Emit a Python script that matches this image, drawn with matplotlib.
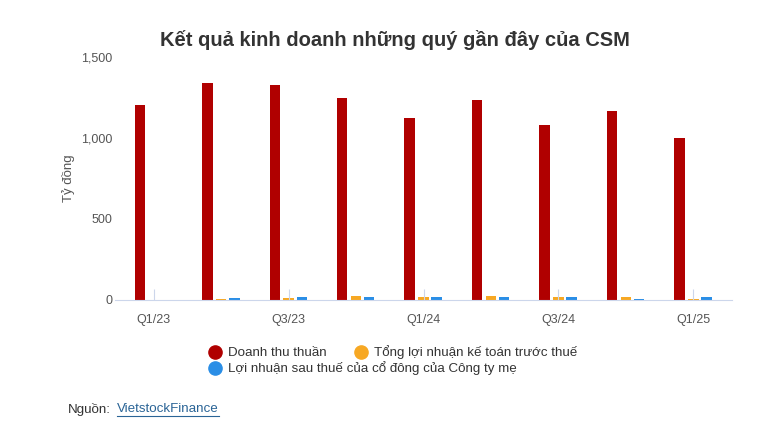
import numpy as np
import matplotlib.pyplot as plt
from matplotlib.lines import Line2D

plt.rcParams['font.family'] = ['Liberation Sans', 'DejaVu Sans']

quarters = ["Q1/23", "Q2/23", "Q3/23", "Q4/23", "Q1/24", "Q2/24", "Q3/24", "Q4/24", "Q1/25"]
doanh_thu = [1206, 1338, 1324, 1247, 1121, 1235, 1082, 1164, 997]
lnst_truoc_thue = [1, 8, 12, 23, 15, 25, 15, 15, 6]
lnst_cty_me = [2, 12, 17, 15, 15, 15, 15, 6, 15]
yticks = [0, 500, 1000, 1500]

c_red = "#b00000"
c_orange = "#f7a823"
c_blue = "#2a8ee6"

fig = plt.figure(figsize=(7.68, 4.41), dpi=100)
ax = fig.add_axes([0.150, 0.320, 0.803, 0.551])

x = np.arange(len(quarters))
w = 0.155
ax.bar(x - 0.205, doanh_thu, w, color=c_red)
ax.bar(x, lnst_truoc_thue, w, color=c_orange)
ax.bar(x + 0.195, lnst_cty_me, w, color=c_blue)

ax.set_xlim(-0.57, 8.57)
ax.set_ylim(0, 1500)

for s in ["top", "right", "left"]:
    ax.spines[s].set_visible(False)
ax.spines["bottom"].set_color("#ccd6eb")

ax.set_xticks(x[::2])
ax.set_xticklabels(quarters[::2], fontsize=9, color="#555555")
ax.tick_params(axis="x", direction="in", length=8, color="#ccd6eb", pad=10)
ax.set_yticks(yticks)
ax.set_yticklabels([f"{v:,}" for v in yticks], fontsize=9, color="#555555")
ax.tick_params(axis="y", length=0, pad=2)
ax.set_ylabel("Tỷ đồng", fontsize=9.5, color="#555555", labelpad=4)

fig.text(0.514, 0.91, "Kết quả kinh doanh những quý gần đây của CSM",
         ha="center", va="center", fontsize=14.5, fontweight="bold", color="#333333")

# legend drawn by hand (flow layout like the original)
legend_items = [
    (215, 352, c_red, "Doanh thu thuần"),
    (361, 352, c_orange, "Tổng lợi nhuận kế toán trước thuế"),
    (215, 368, c_blue, "Lợi nhuận sau thuế của cổ đông của Công ty mẹ"),
]
W, H = 768, 441
for px, py, col, label in legend_items:
    fig.add_artist(Line2D([px / W], [1 - py / H], marker="o", markersize=9.5,
                          color=col, linestyle="none", transform=fig.transFigure))
    fig.text((px + 13) / W, 1 - (py + 4) / H, label, ha="left", va="baseline",
             fontsize=9.6, color="#333333")

fig.text(68 / W, 1 - 409 / H, "Nguồn:", ha="left", va="center", fontsize=9.6, color="#333333")
fig.text(117 / W, 1 - 409 / H, "VietstockFinance", ha="left", va="center", fontsize=9.6,
         color="#2a6496")
fig.add_artist(Line2D([117 / W, 219 / W], [1 - 416 / H] * 2, color="#2a6496", lw=0.8,
                      transform=fig.transFigure))

fig.savefig("out.png", dpi=100)
